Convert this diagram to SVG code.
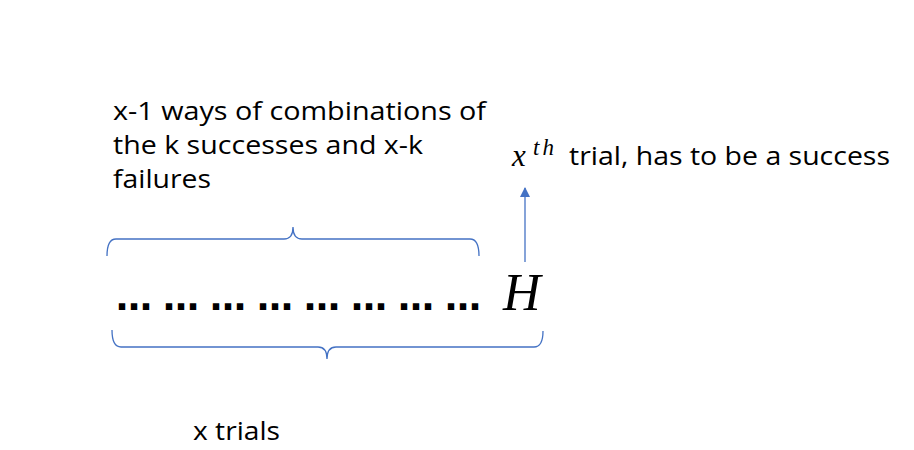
<svg xmlns="http://www.w3.org/2000/svg" width="914" height="450" viewBox="0 0 914 450">
<defs>
<style>
.lbl{font-family:"Open Sans","Liberation Sans",sans-serif;font-size:26px;fill:#000}
.math{font-family:"Liberation Serif",serif;font-style:italic;fill:#000}
.brace{fill:none;stroke:#4472C4;stroke-width:1.3}
</style>
<marker id="ah" viewBox="0 0 10 10" refX="9" refY="5" markerWidth="10" markerHeight="10" markerUnits="userSpaceOnUse" orient="auto">
<path d="M0,0 L10,5 L0,10 z" fill="#4472C4"/>
</marker>
</defs>
<rect width="914" height="450" fill="#fff"/>
<g id="top-label">
<text class="lbl" x="113" y="120" textLength="373" lengthAdjust="spacingAndGlyphs">x-1 ways of combinations of</text>
<text class="lbl" x="113" y="154" textLength="310" lengthAdjust="spacingAndGlyphs">the k successes and x-k</text>
<text class="lbl" x="113" y="188" textLength="98" lengthAdjust="spacingAndGlyphs">failures</text>
</g>
<g id="xth-label">
<text class="math" x="512" y="166" font-size="31">x</text>
<text class="math" x="533" y="155" font-size="23" letter-spacing="3">th</text>
<text class="lbl" x="569" y="165" textLength="321" lengthAdjust="spacingAndGlyphs">trial, has to be a success</text>
</g>
<g id="sequence">
<text font-family="'DejaVu Sans',sans-serif" font-weight="bold" font-size="36" y="310" x="116 163 210 257 304 351 398 445">……………………</text>
<text class="math" x="503" y="310" font-size="52">H</text>
</g>
<g id="bottom-label">
<text class="lbl" x="193" y="440" textLength="87" lengthAdjust="spacingAndGlyphs">x trials</text>
</g>
<g id="connectors">
<path class="brace" d="M107,256 Q107,239 116,239 L284,239 Q293,239 293,227 Q293,239 302,239 L470,239 Q479,239 479,256"/>
<path class="brace" d="M112,330 Q112,347 121,347 L318,347 Q327,347 327,359 Q327,347 336,347 L534,347 Q543,347 543,331"/>
<line x1="525" y1="262" x2="525" y2="188" stroke="#4472C4" stroke-width="1.3" marker-end="url(#ah)"/>
</g>
</svg>
